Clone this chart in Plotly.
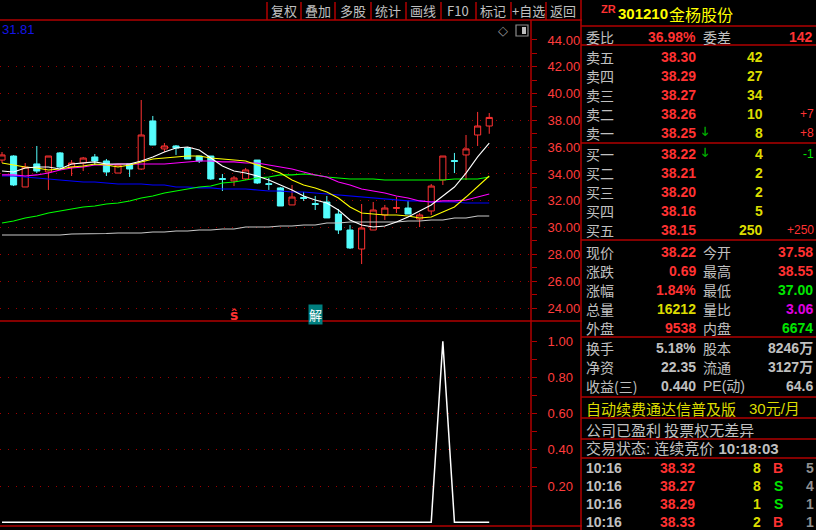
import plotly.graph_objects as go

W, H = 816, 530

# ---- K线数据 (日线, 43根) ----
opens = [35.04, 35.34, 33.03, 34.75, 34.15, 35.57, 34.52, 34.82, 35.27, 34.97,
         34.07, 34.75, 34.37, 37.96, 35.87, 36.09, 35.94, 35.34, 35.34, 33.66,
         33.48, 33.63, 35.04, 33.28, 32.96, 31.69, 32.24, 31.79, 31.91, 31.01,
         29.82, 28.40, 29.82, 30.94, 31.43, 31.46, 30.64, 31.24, 33.55, 35.00,
         35.42, 36.91, 37.58]
highs = [35.64, 35.40, 34.82, 36.09, 35.34, 35.64, 35.04, 35.27, 35.49, 35.12,
         34.67, 34.75, 39.52, 38.33, 36.31, 36.16, 36.01, 35.34, 35.34, 34.00,
         33.85, 34.45, 35.04, 33.70, 33.03, 33.18, 32.66, 32.36, 32.36, 31.39,
         30.19, 31.76, 31.91, 31.69, 32.28, 31.99, 31.09, 33.25, 35.34, 35.57,
         36.91, 38.63, 38.55]
lows = [34.82, 33.10, 33.03, 34.07, 32.81, 34.45, 33.85, 34.22, 34.67, 33.85,
        34.07, 33.78, 34.30, 36.16, 35.64, 35.42, 35.12, 34.82, 33.55, 32.73,
        33.10, 33.55, 33.25, 32.81, 31.61, 31.69, 31.99, 31.31, 30.72, 29.52,
        28.40, 27.28, 29.82, 30.57, 31.09, 31.01, 30.04, 30.94, 33.18, 34.07,
        33.55, 36.09, 37.00]
closes = [35.42, 33.18, 34.52, 34.22, 35.34, 34.52, 34.82, 35.19, 34.97, 34.15,
          34.67, 34.37, 36.91, 36.16, 36.09, 35.94, 35.12, 34.97, 33.63, 33.60,
          33.70, 34.30, 33.33, 33.22, 31.61, 32.28, 32.18, 31.73, 30.72, 29.82,
          28.48, 29.97, 31.31, 31.46, 31.49, 31.01, 30.94, 33.10, 35.34, 34.94,
          35.87, 37.58, 38.22]

# 均线
ma_white = [34.22, 34.15, 34.45, 34.52, 34.52, 34.37, 34.75, 34.82, 34.90, 34.75,
            34.75, 34.75, 34.97, 35.27, 35.64, 35.94, 36.01, 35.79, 35.19, 34.60,
            34.22, 34.07, 33.85, 33.55, 33.18, 32.81, 32.36, 32.06, 31.84, 31.31,
            30.57, 30.19, 30.04, 30.12, 30.42, 30.79, 31.24, 31.69, 32.36, 33.03,
            34.07, 35.27, 36.31]
ma_yellow = [34.82, 34.67, 34.52, 34.45, 34.30, 34.37, 34.52, 34.60, 34.75, 34.67,
             34.52, 34.67, 34.90, 35.12, 35.19, 35.27, 35.34, 35.34, 35.19, 35.12,
             35.04, 34.97, 34.67, 34.37, 34.07, 33.55, 33.18, 32.96, 32.66, 32.21,
             31.54, 31.09, 31.01, 30.94, 30.94, 30.87, 30.72, 30.79, 31.16, 31.54,
             32.28, 33.03, 33.85]
ma_magenta = [33.93, 33.93, 33.85, 33.93, 34.07, 34.30, 34.45, 34.52, 34.67, 34.67,
              34.75, 34.75, 34.75, 34.75, 34.75, 34.82, 34.90, 34.97, 34.97, 34.90,
              34.90, 34.82, 34.82, 34.67, 34.52, 34.37, 34.15, 33.93, 33.78, 33.40,
              33.18, 32.88, 32.73, 32.58, 32.36, 32.21, 31.99, 31.91, 31.99, 31.99,
              32.06, 32.28, 32.51]
ma_green = [30.34, 30.49, 30.72, 30.87, 31.09, 31.24, 31.39, 31.54, 31.61, 31.76,
            31.84, 31.99, 32.21, 32.36, 32.58, 32.73, 32.88, 33.03, 33.10, 33.33,
            33.40, 33.55, 33.70, 33.78, 33.93, 33.93, 34.00, 33.93, 33.78, 33.70,
            33.63, 33.63, 33.63, 33.55, 33.55, 33.55, 33.55, 33.55, 33.55, 33.63,
            33.63, 33.63, 33.78]
ma_blue = [33.85, 33.85, 33.78, 33.70, 33.63, 33.55, 33.48, 33.40, 33.40, 33.33,
           33.25, 33.25, 33.25, 33.18, 33.18, 33.03, 33.03, 32.96, 32.96, 32.88,
           32.88, 32.88, 32.81, 32.73, 32.73, 32.66, 32.66, 32.58, 32.51, 32.43,
           32.36, 32.28, 32.21, 32.13, 32.06, 31.99, 31.99, 31.91, 31.91, 31.91,
           31.84, 31.84, 31.84]
ma_gray = [29.45, 29.45, 29.45, 29.45, 29.45, 29.45, 29.52, 29.52, 29.56, 29.56,
           29.60, 29.60, 29.60, 29.67, 29.67, 29.75, 29.75, 29.82, 29.82, 29.90,
           29.90, 30.04, 30.04, 30.04, 30.12, 30.12, 30.19, 30.19, 30.34, 30.34,
           30.42, 30.42, 30.42, 30.42, 30.42, 30.49, 30.49, 30.57, 30.57, 30.72,
           30.72, 30.87, 30.87]

# 副图指标
signal = [0, 0, 0, 0, 0, 0, 0, 0, 0, 0,
          0, 0, 0, 0, 0, 0, 0, 0, 0, 0,
          0, 0, 0, 0, 0, 0, 0, 0, 0, 0,
          0, 0, 0, 0, 0, 0, 0, 0, 1, 0,
          0, 0, 0]

price_ticks = [24, 26, 28, 30, 32, 34, 36, 38, 40, 42, 44]
price_minor = [25, 27, 29, 31, 33, 35, 37, 39, 41, 43]
sig_ticks = [0.2, 0.4, 0.6, 0.8, 1.0]
sig_minor = [0.3, 0.5, 0.7, 0.9]

toolbar = ["复权", "叠加", "多股", "统计", "画线", "F10", "标记", "+自选", "返回"]

ask_names = ["卖五", "卖四", "卖三", "卖二", "卖一"]
ask_prices = ["38.30", "38.29", "38.27", "38.26", "38.25"]
ask_vols = ["42", "27", "34", "10", "8"]
ask_chg = ["", "", "", "+7", "+8"]
bid_names = ["买一", "买二", "买三", "买四", "买五"]
bid_prices = ["38.22", "38.21", "38.20", "38.16", "38.15"]
bid_vols = ["4", "2", "2", "5", "250"]
bid_chg = ["-1", "", "", "", "+250"]

trade_times = ["10:16", "10:16", "10:16", "10:16"]
trade_prices = ["38.32", "38.27", "38.29", "38.33"]
trade_vols = ["8", "8", "1", "2"]
trade_side = ["B", "S", "S", "B"]
trade_cnt = ["5", "4", "1", "1"]

# colours
FRAME = "#b00000"
GRID = "#a00000"
AXT = "#ff3c3c"
RED = "#ff3232"
CYAN = "#54fcfc"
GRAY = "#c0c0c0"
YEL = "#dcdc00"
GRN = "#00e600"
CJK = "Noto Sans CJK SC"
NUM = "Liberation Sans, Noto Sans CJK SC"

xs = list(range(len(closes)))
XR = [-0.172, 45.60]
YR = [23.03, 45.49]
Y2R = [-0.021, 1.107]

fig = go.Figure()

fig.add_trace(go.Candlestick(
    x=xs, open=opens, high=highs, low=lows, close=closes,
    increasing=dict(line=dict(color=RED, width=1), fillcolor="#000000"),
    decreasing=dict(line=dict(color=CYAN, width=1), fillcolor=CYAN),
    whiskerwidth=0, xaxis="x", yaxis="y", showlegend=False, hoverinfo="skip"
))

for vals, col in [(ma_gray, "#c8c8c8"), (ma_blue, "#0000ff"), (ma_green, "#00ff00"),
                  (ma_magenta, "#ff00ff"), (ma_yellow, "#ffff00"), (ma_white, "#ffffff")]:
    fig.add_trace(go.Scatter(x=xs, y=vals, mode="lines", line=dict(color=col, width=1.1),
                             xaxis="x", yaxis="y", showlegend=False, hoverinfo="skip"))

fig.add_trace(go.Scatter(x=xs, y=signal, mode="lines", line=dict(color="#ffffff", width=1.5),
                         xaxis="x2", yaxis="y2", showlegend=False, hoverinfo="skip"))

# invisible traces so the label axes get drawn
fig.add_trace(go.Scatter(x=xs[:1], y=closes[:1], mode="markers", marker=dict(opacity=0),
                         xaxis="x", yaxis="y3", showlegend=False, hoverinfo="skip"))
fig.add_trace(go.Scatter(x=xs[:1], y=signal[:1], mode="markers", marker=dict(opacity=0),
                         xaxis="x2", yaxis="y4", showlegend=False, hoverinfo="skip"))

xdom = [0, 531 / W]
grid = dict(showgrid=True, gridcolor=GRID, griddash="1px,7px", gridwidth=1,
            zeroline=False, showticklabels=False, ticks="", showline=False)
labels = dict(showgrid=False, zeroline=False, ticks="outside", ticklen=5, tickcolor=FRAME,
              tickfont=dict(family="Liberation Sans", size=13, color=AXT),
              ticklabelstandoff=8, showline=False)

fig.update_layout(
    width=W, height=H, margin=dict(l=0, r=0, t=0, b=0),
    paper_bgcolor="#000000", plot_bgcolor="#000000",
    boxgap=0.25,
    xaxis=dict(domain=xdom, range=XR, anchor="y", visible=False, rangeslider=dict(visible=False)),
    xaxis2=dict(domain=xdom, range=XR, anchor="y2", visible=False),
    yaxis=dict(domain=[1 - 321 / H, 1 - 20 / H], range=YR, anchor="x", side="right",
               tickvals=price_ticks[:-1], **grid),
    yaxis3=dict(overlaying="y", anchor="x", side="right", range=YR,
                tickvals=price_ticks, ticktext=["%.2f" % v for v in price_ticks],
                minor=dict(tickvals=price_minor, ticks="outside", ticklen=5, tickcolor=FRAME),
                **labels),
    yaxis2=dict(domain=[1 - 526 / H, 1 - 322 / H], range=Y2R, anchor="x2", side="right",
                tickvals=sig_ticks[:-1], **grid),
    yaxis4=dict(overlaying="y2", anchor="x2", side="right", range=Y2R,
                tickvals=sig_ticks, ticktext=["%.2f" % v for v in sig_ticks],
                minor=dict(tickvals=sig_minor, ticks="outside", ticklen=5, tickcolor=FRAME),
                **labels),
)


def px(x):
    return x / W


def py(y):
    return 1 - y / H


def hline(x0, x1, y, col=FRAME, w=1.5):
    fig.add_shape(type="line", xref="paper", yref="paper", x0=px(x0), x1=px(x1),
                  y0=py(y), y1=py(y), line=dict(color=col, width=w))


def vline(x, y0, y1, col=FRAME, w=1.5):
    fig.add_shape(type="line", xref="paper", yref="paper", x0=px(x), x1=px(x),
                  y0=py(y0), y1=py(y1), line=dict(color=col, width=w))


def txt(x, y, s, color=GRAY, size=14, anchor="left", family=NUM, bold=False, **kw):
    fig.add_annotation(x=px(x), y=py(y), xref="paper", yref="paper", text=s,
                       showarrow=False, xanchor=anchor, yanchor="middle",
                       font=dict(family=family, size=size, color=color,
                                 weight="bold" if bold else "normal"), **kw)


# frame lines
hline(0, 582, 20)
hline(0, 582, 321)
hline(0, 582, 526)
vline(531, 20, 530)
vline(581, 0, 530)
for x in [267, 301, 335, 371, 406, 441, 476, 511, 546]:
    vline(x, 2, 20)
for i, lab in enumerate(toolbar):
    cx = [284, 318, 353, 388, 423, 458, 493, 528, 563][i]
    txt(cx, 11, lab, GRAY, 13, "center", family=CJK)

# chart top-left and icons
txt(0, 30, "31.81", "#1414e6", 13, "left", family="Liberation Sans")
txt(503, 31, "◇", "#9a9a9a", 13, "center", family="DejaVu Sans")
fig.add_shape(type="rect", xref="paper", yref="paper", x0=px(516), x1=px(528), y0=py(36), y1=py(25),
              line=dict(color="#8c8c8c", width=1.2))
fig.add_shape(type="rect", xref="paper", yref="paper", x0=px(522), x1=px(526), y0=py(34), y1=py(27),
              line=dict(width=0), fillcolor="#bdbdbd")

# markers under candles
fig.add_annotation(x=20, y=23.5, xref="x", yref="y", text="ŝ", showarrow=False,
                   font=dict(family="DejaVu Sans", size=14, color=RED, weight="bold"))
fig.add_annotation(x=27, y=23.55, xref="x", yref="y", text="解", showarrow=False,
                   bgcolor="#007f7f", borderpad=0,
                   font=dict(family=CJK, size=13, color="#ffffff"))

# ---- right panel ----
LS = 14  # label size
txt(599, 9, "ZR", RED, 11, "left", family="Liberation Sans", bold=True)
txt(616, 14, "301210", "#ffff00", 15, "left", bold=True)
txt(667, 14, "金杨股份", "#ffff00", 16, "left", family=CJK)
hline(581, 816, 26)
txt(584, 37, "委比", GRAY, LS, family=CJK)
txt(698, 37, "36.98%", RED, 14, "right", bold=True)
txt(701, 37, "委差", GRAY, LS, family=CJK)
txt(815, 37, "142", RED, 14, "right", bold=True)
hline(581, 816, 45)

ask_y = [57, 76, 95, 114, 133]
for i in range(5):
    txt(584, ask_y[i], ask_names[i], GRAY, LS, family=CJK)
    txt(698, ask_y[i], ask_prices[i], RED, 14, "right", bold=True)
    txt(765, ask_y[i], ask_vols[i], YEL, 14, "right", bold=True)
    if ask_chg[i]:
        txt(816, ask_y[i], ask_chg[i], RED, 12, "right")
txt(705, 132, "🡓", "#00b000", 12, "center", family="DejaVu Sans", bold=True)
hline(581, 816, 143)

bid_y = [154, 173, 192, 211, 230]
for i in range(5):
    txt(584, bid_y[i], bid_names[i], GRAY, LS, family=CJK)
    txt(698, bid_y[i], bid_prices[i], RED, 14, "right", bold=True)
    txt(765, bid_y[i], bid_vols[i], YEL, 14, "right", bold=True)
    if bid_chg[i]:
        txt(816, bid_y[i], bid_chg[i], GRN if bid_chg[i].startswith("-") else RED, 12, "right")
txt(705, 153, "🡓", "#00b000", 12, "center", family="DejaVu Sans", bold=True)
hline(581, 816, 240)

stats = [
    ("现价", "38.22", RED, "今开", "37.58", RED),
    ("涨跌", "0.69", RED, "最高", "38.55", RED),
    ("涨幅", "1.84%", RED, "最低", "37.00", GRN),
    ("总量", "16212", YEL, "量比", "3.06", "#e000e0"),
    ("外盘", "9538", RED, "内盘", "6674", GRN),
]
stat_y = [251.5, 270.5, 289.5, 308.5, 327.5]
for (l1, v1, c1, l2, v2, c2), y in zip(stats, stat_y):
    txt(584, y, l1, GRAY, LS, family=CJK)
    txt(698, y, v1, c1, 14, "right", bold=True)
    txt(701, y, l2, GRAY, LS, family=CJK)
    txt(815, y, v2, c2, 14, "right", bold=True)
hline(581, 816, 337)

fin = [
    ("换手", "5.18%", "股本", "8246万"),
    ("净资", "22.35", "流通", "3127万"),
    ("收益(三)", "0.440", "PE(动)", "64.6"),
]
for (l1, v1, l2, v2), y in zip(fin, [348, 367, 386]):
    txt(584, y, l1, GRAY, LS, family=CJK)
    txt(698, y, v1, GRAY, 14, "right", bold=True)
    txt(701, y, l2, GRAY, LS, family=NUM if l2.startswith("PE") else CJK)
    txt(815, y, v2, GRAY, 14, "right", bold=True)
hline(581, 816, 397)
txt(584, 408, "自动续费通达信普及版", YEL, 15, family=CJK)
txt(802, 408, "30元/月", YEL, 15, "right", family=NUM)
hline(581, 816, 418)
txt(584, 429, "公司已盈利 投票权无差异", GRAY, 15, family=CJK)
hline(581, 816, 439)
txt(584, 448, "交易状态: 连续竞价 <b>10:18:03</b>", GRAY, 15, family=NUM)
hline(581, 816, 458)

for i, y in enumerate([468, 486, 504, 522]):
    txt(584, y, trade_times[i], GRAY, 14, bold=True)
    txt(697, y, trade_prices[i], RED, 14, "right", bold=True)
    txt(763, y, trade_vols[i], YEL, 14, "right", bold=True)
    txt(778, y, trade_side[i], RED if trade_side[i] == "B" else GRN, 14, "center", bold=True)
    txt(816, y, trade_cnt[i], "#909090", 14, "right", bold=True)

fig.write_html("out.html", config={"displayModeBar": False},
               post_script="document.body.style.margin='0';document.body.style.overflow='hidden';")
